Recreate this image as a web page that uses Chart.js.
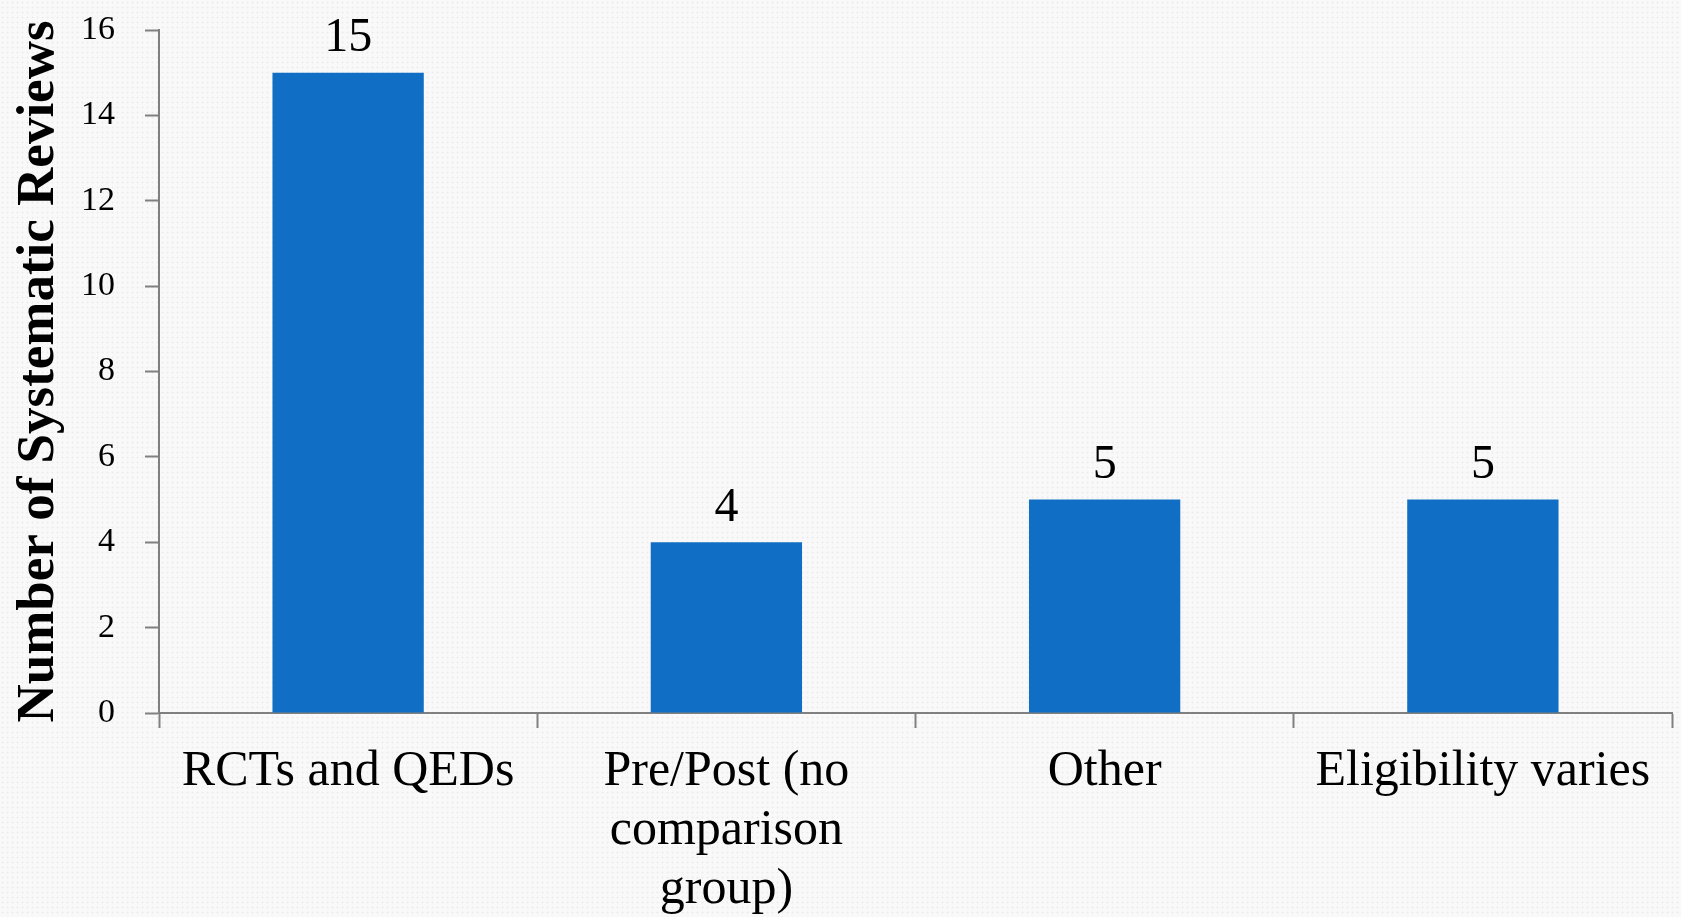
<!DOCTYPE html>
<html>
<head>
<meta charset="utf-8">
<script src="https://cdn.jsdelivr.net/npm/chart.js@4"></script>
<style>
  body {
    margin: 0;
    background-color: #f9f9f9;
    background-image: radial-gradient(#ececec 0.8px, transparent 1.2px);
    background-size: 5px 5px;
  }
  #wrap { width: 1681px; height: 917px; position: relative; }
</style>
</head>
<body>
<div id="wrap"><canvas id="myChart"></canvas></div>
<script>
// chart data
const categories = [
  "RCTs and QEDs",
  ["Pre/Post (no", "comparison", "group)"],
  "Other",
  "Eligibility varies",
];
const reviewCounts = [15, 4, 5, 5];
const yTicks = [0, 2, 4, 6, 8, 10, 12, 14, 16];

const serif = "'Liberation Serif', 'Times New Roman', serif";
const axisGray = "#808080";

// value labels over the bars
const valueLabels = {
  id: "valueLabels",
  afterDatasetsDraw(chart) {
    const ctx = chart.ctx;
    const meta = chart.getDatasetMeta(0);
    ctx.save();
    ctx.font = "48px " + serif;
    ctx.fillStyle = "#000";
    ctx.textAlign = "center";
    ctx.textBaseline = "bottom";
    meta.data.forEach(function (bar, i) {
      ctx.fillText(reviewCounts[i], bar.x, bar.y - 10);
    });
    ctx.restore();
  },
};

const ctx = document.getElementById("myChart");
const myChart = new Chart(ctx, {
  type: "bar",
  data: {
    labels: categories,
    datasets: [
      {
        label: "Number of Systematic Reviews",
        data: reviewCounts,
        backgroundColor: "#106ec4",
        borderWidth: 0,
        categoryPercentage: 1,
        barPercentage: 0.4,
      },
    ],
  },
  options: {
    responsive: true,
    maintainAspectRatio: false,
    animation: false,
    layout: { padding: { top: 30, right: 9, left: 0, bottom: 0 } },
    plugins: {
      legend: { display: false },
      tooltip: { enabled: false },
    },
    scales: {
      x: {
        grid: {
          offset: true,
          drawOnChartArea: false,
          tickLength: 15,
          tickColor: axisGray,
          tickWidth: 2,
        },
        border: { color: axisGray, width: 2 },
        ticks: {
          color: "#000",
          font: { family: serif, size: 50, lineHeight: 1.18 },
          padding: 14,
          maxRotation: 0,
          autoSkip: false,
        },
        afterFit(scale) {
          scale.height = 204;
          scale.paddingLeft = 0;
          scale.paddingRight = 0;
        },
      },
      y: {
        min: 0,
        max: 16,
        afterBuildTicks(scale) {
          scale.ticks = yTicks.map(function (v) {
            return { value: v };
          });
        },
        grid: {
          drawOnChartArea: false,
          tickLength: 14,
          tickColor: axisGray,
          tickWidth: 2,
        },
        border: { color: axisGray, width: 2 },
        ticks: {
          color: "#000",
          font: { family: serif, size: 34 },
          padding: 30,
        },
        title: {
          display: true,
          text: "Number of Systematic Reviews",
          color: "#000",
          font: { family: serif, size: 53, weight: "bold" },
          padding: { top: 8, bottom: 0 },
        },
        afterFit(scale) {
          scale.width = 159;
          scale.paddingTop = 0;
          scale.paddingBottom = 0;
        },
      },
    },
  },
  plugins: [valueLabels],
});
</script>
</body>
</html>
